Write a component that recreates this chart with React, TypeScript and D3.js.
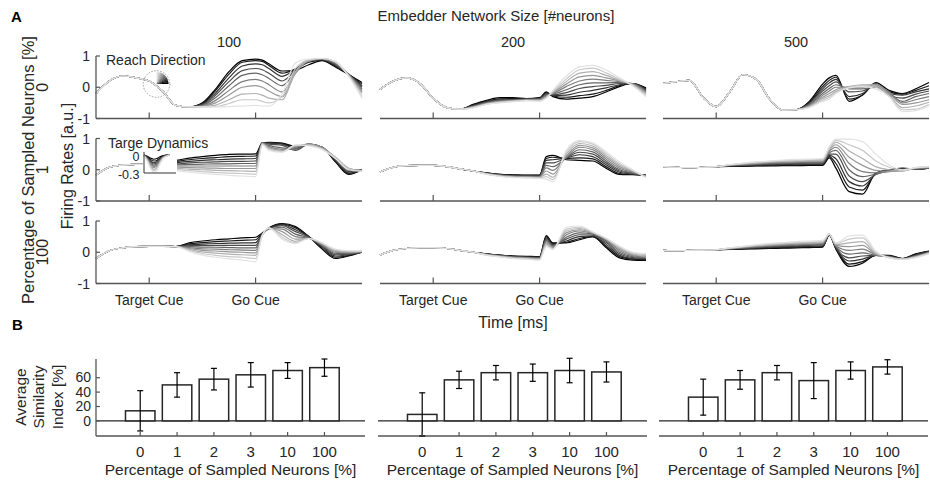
import React from 'react';
import * as d3 from 'd3';

// time grid (ms) shared by every trace in panel A
const TIMES = [0, 50, 100, 150, 200, 250, 300, 350, 400, 450, 500, 550, 600, 625, 650, 700, 750, 800, 850, 900, 950, 1000];
const TARGET_CUE = 200;
const GO_CUE = 600;
const NET_SIZES = ['100', '200', '500'];
const SAMPLED = ['0', '1', '100'];
const Y_TICKS_A = [1, 0, -1];

// 0% sampled, 100 neurons
const pre00 = [-0.2, 0.2, 0.36, 0.3, 0.2, -0.12, -0.58, -0.63];
const A00 = [
  [...pre00, -0.5, -0.05, 0.5, 0.85, 0.9, 0.87, 0.75, 0.52, 0.55, 0.72, 0.85, 0.65, 0.4, 0.15],
  [...pre00, -0.52, -0.1, 0.42, 0.8, 0.85, 0.83, 0.7, 0.45, 0.58, 0.8, 0.86, 0.68, 0.42, 0.1],
  [...pre00, -0.54, -0.18, 0.3, 0.68, 0.75, 0.72, 0.6, 0.35, 0.58, 0.85, 0.88, 0.7, 0.42, 0.05],
  [...pre00, -0.56, -0.25, 0.18, 0.53, 0.6, 0.56, 0.45, 0.2, 0.55, 0.86, 0.9, 0.72, 0.4, 0.0],
  [...pre00, -0.58, -0.33, 0.05, 0.38, 0.45, 0.4, 0.28, 0.05, 0.5, 0.86, 0.9, 0.75, 0.4, -0.05],
  [...pre00, -0.6, -0.42, -0.1, 0.18, 0.25, 0.2, 0.08, -0.15, 0.45, 0.85, 0.9, 0.78, 0.4, -0.1],
  [...pre00, -0.61, -0.5, -0.25, 0.0, 0.05, 0.0, -0.12, -0.3, 0.45, 0.85, 0.92, 0.8, 0.4, -0.15],
  [...pre00, -0.62, -0.57, -0.4, -0.22, -0.2, -0.25, -0.35, -0.4, 0.5, 0.86, 0.92, 0.82, 0.38, -0.2],
  [...pre00, -0.63, -0.62, -0.52, -0.4, -0.4, -0.45, -0.5, -0.3, 0.6, 0.88, 0.92, 0.82, 0.36, -0.3],
  [...pre00, -0.63, -0.63, -0.62, -0.6, -0.58, -0.6, -0.6, -0.2, 0.78, 0.9, 0.92, 0.82, 0.35, -0.35],
];

// 0% sampled, 200 neurons
const pre01 = [-0.07, 0.2, 0.3, 0.12, -0.35, -0.65, -0.7];
const A01 = [
  [...pre01, -0.55, -0.42, -0.33, -0.33, -0.36, -0.33, -0.15, -0.3, -0.38, -0.35, -0.3, -0.15, 0.02, 0.12, -0.02],
  [...pre01, -0.57, -0.44, -0.37, -0.36, -0.37, -0.35, -0.17, -0.28, -0.32, -0.27, -0.22, -0.1, 0.05, 0.12, -0.05],
  [...pre01, -0.58, -0.46, -0.4, -0.39, -0.38, -0.36, -0.2, -0.26, -0.25, -0.16, -0.1, -0.02, 0.08, 0.12, -0.08],
  [...pre01, -0.6, -0.48, -0.42, -0.4, -0.38, -0.37, -0.22, -0.24, -0.17, -0.04, 0.02, 0.06, 0.12, 0.12, -0.1],
  [...pre01, -0.61, -0.5, -0.43, -0.41, -0.39, -0.38, -0.25, -0.22, -0.08, 0.08, 0.14, 0.14, 0.15, 0.12, -0.12],
  [...pre01, -0.62, -0.51, -0.45, -0.42, -0.4, -0.4, -0.27, -0.2, 0.02, 0.2, 0.26, 0.22, 0.18, 0.1, -0.15],
  [...pre01, -0.63, -0.52, -0.46, -0.43, -0.41, -0.41, -0.3, -0.18, 0.1, 0.33, 0.38, 0.3, 0.2, 0.1, -0.18],
  [...pre01, -0.64, -0.53, -0.47, -0.44, -0.42, -0.42, -0.32, -0.16, 0.18, 0.45, 0.5, 0.38, 0.22, 0.08, -0.22],
  [...pre01, -0.65, -0.54, -0.48, -0.45, -0.42, -0.43, -0.34, -0.13, 0.26, 0.56, 0.61, 0.46, 0.26, 0.06, -0.26],
  [...pre01, -0.66, -0.55, -0.5, -0.46, -0.43, -0.45, -0.35, -0.1, 0.35, 0.65, 0.7, 0.55, 0.3, 0.05, -0.3],
];

// 0% sampled, 500 neurons
const pre02 = [0.12, 0.18, 0.22, -0.32, -0.62, -0.16, 0.4, 0.26, -0.37, -0.73, -0.72];
const A02 = [
  [...pre02, -0.45, 0.1, 0.3, 0.38, -0.45, -0.25, 0.15, -0.1, -0.2, -0.05, 0.15],
  [...pre02, -0.48, 0.02, 0.22, 0.32, -0.38, -0.25, 0.12, -0.15, -0.22, -0.1, 0.05],
  [...pre02, -0.5, -0.05, 0.14, 0.25, -0.3, -0.2, 0.1, -0.2, -0.25, -0.15, -0.05],
  [...pre02, -0.53, -0.12, 0.05, 0.17, -0.15, -0.12, 0.05, -0.25, -0.35, -0.22, -0.12],
  [...pre02, -0.55, -0.2, -0.04, 0.08, -0.05, -0.05, 0.0, -0.2, -0.45, -0.3, -0.2],
  [...pre02, -0.58, -0.26, -0.12, 0.0, 0.0, 0.0, 0.05, -0.15, -0.5, -0.4, -0.3],
  [...pre02, -0.6, -0.32, -0.2, -0.08, 0.02, 0.05, 0.1, -0.2, -0.55, -0.5, -0.4],
  [...pre02, -0.62, -0.37, -0.27, -0.14, 0.02, 0.08, 0.05, -0.25, -0.65, -0.6, -0.48],
  [...pre02, -0.64, -0.42, -0.33, -0.18, 0.0, 0.05, 0.0, -0.3, -0.72, -0.7, -0.55],
  [...pre02, -0.65, -0.45, -0.38, -0.2, -0.02, 0.02, -0.05, -0.3, -0.78, -0.75, -0.6],
];

// 1% sampled, 100 neurons
const pre10 = [-0.17, 0.08, 0.15, 0.17, 0.17];
const A10 = [
  [...pre10, 0.25, 0.3, 0.37, 0.42, 0.46, 0.49, 0.5, 0.51, 0.85, 0.88, 0.85, 0.75, 0.8, 0.72, 0.25, -0.15, 0.0],
  [...pre10, 0.23, 0.27, 0.32, 0.36, 0.39, 0.42, 0.43, 0.44, 0.86, 0.87, 0.84, 0.72, 0.8, 0.72, 0.27, -0.12, 0.0],
  [...pre10, 0.21, 0.23, 0.27, 0.3, 0.32, 0.34, 0.35, 0.36, 0.86, 0.85, 0.82, 0.68, 0.82, 0.72, 0.3, -0.1, 0.0],
  [...pre10, 0.19, 0.19, 0.22, 0.24, 0.25, 0.27, 0.27, 0.28, 0.86, 0.82, 0.78, 0.62, 0.82, 0.72, 0.32, -0.06, 0.0],
  [...pre10, 0.17, 0.16, 0.17, 0.18, 0.19, 0.19, 0.2, 0.2, 0.86, 0.78, 0.7, 0.66, 0.82, 0.72, 0.35, -0.02, 0.0],
  [...pre10, 0.15, 0.12, 0.12, 0.12, 0.12, 0.12, 0.12, 0.12, 0.85, 0.74, 0.65, 0.7, 0.83, 0.72, 0.38, 0.02, -0.02],
  [...pre10, 0.13, 0.09, 0.07, 0.06, 0.05, 0.04, 0.04, 0.04, 0.84, 0.7, 0.62, 0.74, 0.82, 0.7, 0.4, 0.05, -0.03],
  [...pre10, 0.11, 0.05, 0.02, 0.0, -0.02, -0.03, -0.04, -0.05, 0.83, 0.68, 0.6, 0.76, 0.8, 0.68, 0.4, 0.05, -0.04],
  [...pre10, 0.08, 0.01, -0.03, -0.06, -0.09, -0.11, -0.12, -0.14, 0.82, 0.65, 0.58, 0.78, 0.78, 0.66, 0.38, 0.03, -0.05],
  [...pre10, 0.05, -0.03, -0.08, -0.12, -0.15, -0.18, -0.2, -0.22, 0.8, 0.62, 0.56, 0.8, 0.76, 0.65, 0.36, 0.0, -0.05],
];

// 1% sampled, 200 neurons
const pre11 = [-0.07, 0.08, 0.13, 0.14, 0.14, 0.1, 0.03, -0.04];
const A11 = [
  [...pre11, -0.1, -0.15, -0.16, -0.17, -0.17, 0.42, 0.46, 0.32, 0.3, 0.28, 0.05, -0.15, -0.16, -0.17],
  [...pre11, -0.1, -0.15, -0.17, -0.18, -0.18, 0.36, 0.4, 0.36, 0.38, 0.35, 0.1, -0.12, -0.15, -0.18],
  [...pre11, -0.11, -0.16, -0.18, -0.19, -0.19, 0.3, 0.32, 0.38, 0.48, 0.42, 0.16, -0.08, -0.14, -0.18],
  [...pre11, -0.11, -0.17, -0.19, -0.2, -0.2, 0.22, 0.22, 0.38, 0.56, 0.5, 0.22, -0.04, -0.12, -0.19],
  [...pre11, -0.12, -0.17, -0.2, -0.21, -0.22, 0.14, 0.1, 0.38, 0.64, 0.57, 0.28, 0.0, -0.1, -0.2],
  [...pre11, -0.12, -0.18, -0.21, -0.22, -0.23, 0.06, -0.02, 0.4, 0.72, 0.64, 0.34, 0.05, -0.08, -0.2],
  [...pre11, -0.13, -0.19, -0.22, -0.23, -0.24, -0.04, -0.14, 0.44, 0.78, 0.7, 0.4, 0.1, -0.06, -0.21],
  [...pre11, -0.13, -0.2, -0.23, -0.24, -0.25, -0.14, -0.24, 0.5, 0.84, 0.76, 0.46, 0.15, -0.04, -0.22],
  [...pre11, -0.14, -0.2, -0.24, -0.25, -0.26, -0.22, -0.32, 0.56, 0.9, 0.82, 0.52, 0.2, -0.02, -0.24],
  [...pre11, -0.14, -0.21, -0.25, -0.26, -0.28, -0.3, -0.39, 0.62, 0.94, 0.86, 0.58, 0.25, 0.0, -0.26],
];

// 1% sampled, 500 neurons
const pre12 = [0.1, 0.08, 0.07, 0.08, 0.1];
const A12 = [
  [...pre12, 0.11, 0.11, 0.12, 0.12, 0.13, 0.13, 0.14, 0.14, 0.38, 0.05, -0.7, -0.78, -0.1, 0.0, 0.05, 0.02, 0.05],
  [...pre12, 0.12, 0.12, 0.13, 0.14, 0.15, 0.15, 0.16, 0.16, 0.42, 0.2, -0.55, -0.65, -0.12, 0.0, 0.04, 0.02, 0.05],
  [...pre12, 0.12, 0.13, 0.15, 0.16, 0.17, 0.18, 0.18, 0.19, 0.46, 0.35, -0.38, -0.52, -0.14, 0.0, 0.03, 0.02, 0.05],
  [...pre12, 0.13, 0.14, 0.16, 0.18, 0.19, 0.2, 0.21, 0.21, 0.5, 0.5, -0.2, -0.38, -0.15, -0.02, 0.02, 0.02, 0.06],
  [...pre12, 0.14, 0.15, 0.18, 0.2, 0.21, 0.22, 0.23, 0.24, 0.54, 0.62, 0.0, -0.22, -0.14, -0.04, 0.0, 0.03, 0.06],
  [...pre12, 0.14, 0.17, 0.19, 0.22, 0.23, 0.24, 0.25, 0.26, 0.58, 0.72, 0.2, -0.06, -0.1, -0.06, -0.02, 0.04, 0.07],
  [...pre12, 0.15, 0.18, 0.21, 0.24, 0.25, 0.26, 0.27, 0.28, 0.62, 0.8, 0.4, 0.14, -0.02, -0.05, -0.04, 0.05, 0.08],
  [...pre12, 0.15, 0.19, 0.22, 0.25, 0.27, 0.28, 0.29, 0.31, 0.66, 0.88, 0.6, 0.36, 0.1, 0.0, -0.05, 0.06, 0.09],
  [...pre12, 0.16, 0.2, 0.24, 0.27, 0.29, 0.3, 0.32, 0.33, 0.7, 0.94, 0.8, 0.62, 0.28, 0.08, -0.03, 0.07, 0.1],
  [...pre12, 0.16, 0.21, 0.25, 0.28, 0.31, 0.33, 0.34, 0.36, 0.74, 0.98, 0.98, 0.9, 0.5, 0.15, 0.0, 0.07, 0.1],
];

// 100% sampled, 100 neurons
const pre20 = [-0.2, 0.05, 0.14, 0.18, 0.19, 0.19, 0.18];
const A20 = [
  [...pre20, 0.3, 0.36, 0.4, 0.43, 0.46, 0.48, 0.62, 0.78, 0.92, 0.82, 0.5, 0.1, -0.2, -0.12, 0.0],
  [...pre20, 0.27, 0.31, 0.34, 0.36, 0.38, 0.4, 0.6, 0.77, 0.9, 0.78, 0.5, 0.14, -0.16, -0.1, 0.0],
  [...pre20, 0.24, 0.26, 0.28, 0.29, 0.3, 0.31, 0.58, 0.76, 0.88, 0.72, 0.5, 0.18, -0.12, -0.08, 0.0],
  [...pre20, 0.21, 0.21, 0.22, 0.22, 0.22, 0.22, 0.57, 0.76, 0.85, 0.66, 0.48, 0.2, -0.08, -0.06, 0.0],
  [...pre20, 0.18, 0.16, 0.16, 0.15, 0.14, 0.14, 0.56, 0.75, 0.8, 0.58, 0.46, 0.22, -0.04, -0.04, 0.02],
  [...pre20, 0.15, 0.11, 0.1, 0.08, 0.07, 0.06, 0.55, 0.76, 0.74, 0.5, 0.45, 0.24, 0.0, -0.02, 0.02],
  [...pre20, 0.12, 0.06, 0.04, 0.01, 0.0, -0.02, 0.55, 0.76, 0.66, 0.42, 0.44, 0.26, 0.03, 0.0, 0.03],
  [...pre20, 0.09, 0.01, -0.03, -0.06, -0.08, -0.1, 0.54, 0.77, 0.56, 0.35, 0.44, 0.28, 0.06, 0.02, 0.03],
  [...pre20, 0.06, -0.04, -0.1, -0.14, -0.16, -0.2, 0.54, 0.77, 0.48, 0.3, 0.44, 0.3, 0.08, 0.04, 0.04],
  [...pre20, 0.03, -0.09, -0.16, -0.21, -0.25, -0.3, 0.54, 0.78, 0.42, 0.28, 0.44, 0.3, 0.1, 0.05, 0.04],
];

// 100% sampled, 200 neurons
const pre21 = [-0.09, 0.06, 0.12, 0.15, 0.15, 0.12, 0.06, 0.0];
const A21 = [
  [...pre21, -0.05, -0.09, -0.12, -0.13, -0.14, 0.53, 0.3, 0.3, 0.4, 0.5, 0.15, -0.18, -0.25, -0.26],
  [...pre21, -0.05, -0.09, -0.12, -0.14, -0.15, 0.5, 0.28, 0.32, 0.44, 0.5, 0.2, -0.14, -0.22, -0.24],
  [...pre21, -0.06, -0.1, -0.13, -0.15, -0.16, 0.46, 0.25, 0.36, 0.5, 0.52, 0.26, -0.1, -0.2, -0.22],
  [...pre21, -0.06, -0.11, -0.14, -0.16, -0.17, 0.42, 0.22, 0.42, 0.56, 0.55, 0.32, -0.05, -0.17, -0.2],
  [...pre21, -0.07, -0.11, -0.15, -0.17, -0.18, 0.38, 0.2, 0.48, 0.62, 0.58, 0.36, 0.0, -0.14, -0.18],
  [...pre21, -0.07, -0.12, -0.16, -0.18, -0.2, 0.34, 0.17, 0.55, 0.68, 0.6, 0.4, 0.05, -0.11, -0.16],
  [...pre21, -0.08, -0.13, -0.17, -0.19, -0.21, 0.3, 0.15, 0.62, 0.72, 0.62, 0.42, 0.1, -0.08, -0.13],
  [...pre21, -0.08, -0.13, -0.18, -0.2, -0.22, 0.26, 0.12, 0.68, 0.76, 0.63, 0.43, 0.14, -0.05, -0.1],
  [...pre21, -0.09, -0.14, -0.19, -0.21, -0.24, 0.22, 0.1, 0.74, 0.8, 0.64, 0.44, 0.17, -0.02, -0.07],
  [...pre21, -0.09, -0.15, -0.2, -0.22, -0.25, 0.18, 0.09, 0.8, 0.84, 0.65, 0.45, 0.2, 0.0, -0.04],
];

// 100% sampled, 500 neurons
const pre22 = [0.06, 0.05, 0.06, 0.07, 0.08];
const A22 = [
  [...pre22, 0.09, 0.1, 0.11, 0.12, 0.13, 0.14, 0.15, 0.16, 0.55, 0.1, -0.45, -0.35, -0.1, -0.1, -0.2, -0.05, 0.04],
  [...pre22, 0.1, 0.11, 0.12, 0.14, 0.15, 0.16, 0.17, 0.18, 0.55, 0.12, -0.38, -0.3, -0.1, -0.11, -0.2, -0.06, 0.03],
  [...pre22, 0.1, 0.12, 0.14, 0.15, 0.17, 0.18, 0.19, 0.2, 0.56, 0.14, -0.28, -0.22, -0.1, -0.12, -0.21, -0.08, 0.02],
  [...pre22, 0.11, 0.13, 0.15, 0.17, 0.19, 0.2, 0.22, 0.23, 0.56, 0.16, -0.18, -0.12, -0.1, -0.13, -0.21, -0.1, 0.01],
  [...pre22, 0.11, 0.14, 0.17, 0.19, 0.21, 0.23, 0.24, 0.25, 0.57, 0.18, -0.06, -0.02, -0.1, -0.14, -0.22, -0.12, 0.0],
  [...pre22, 0.12, 0.15, 0.18, 0.21, 0.23, 0.25, 0.26, 0.28, 0.57, 0.2, 0.06, 0.1, -0.08, -0.15, -0.22, -0.13, -0.01],
  [...pre22, 0.12, 0.16, 0.2, 0.22, 0.25, 0.27, 0.29, 0.3, 0.58, 0.22, 0.18, 0.22, -0.06, -0.16, -0.22, -0.14, -0.02],
  [...pre22, 0.13, 0.17, 0.21, 0.24, 0.27, 0.29, 0.31, 0.33, 0.58, 0.25, 0.3, 0.34, -0.04, -0.16, -0.23, -0.15, -0.03],
  [...pre22, 0.13, 0.18, 0.22, 0.26, 0.29, 0.31, 0.33, 0.35, 0.58, 0.28, 0.42, 0.46, 0.0, -0.17, -0.23, -0.16, -0.04],
  [...pre22, 0.14, 0.19, 0.24, 0.28, 0.31, 0.34, 0.36, 0.38, 0.58, 0.3, 0.52, 0.55, 0.04, -0.18, -0.23, -0.17, -0.05],
];

const PANELS = [
  [A00, A01, A02],
  [A10, A11, A12],
  [A20, A21, A22],
];

// "Targe Dynamics" inset
const INSET_T = [0, 0.1, 0.2, 0.3, 0.4, 0.5, 0.6, 0.7, 0.8];
const INSET = [
  [0.0, -0.02, -0.05, -0.07, -0.06, -0.03, -0.01, 0.0, 0.0],
  [0.0, -0.03, -0.07, -0.1, -0.09, -0.05, -0.02, 0.0, 0.0],
  [0.0, -0.04, -0.09, -0.13, -0.11, -0.06, -0.02, -0.01, 0.0],
  [0.0, -0.05, -0.11, -0.15, -0.13, -0.07, -0.03, -0.01, 0.0],
  [-0.01, -0.05, -0.13, -0.17, -0.15, -0.08, -0.03, -0.01, 0.0],
  [-0.01, -0.06, -0.14, -0.19, -0.17, -0.09, -0.04, -0.01, 0.0],
  [-0.01, -0.07, -0.16, -0.21, -0.19, -0.11, -0.04, -0.02, 0.0],
  [-0.01, -0.08, -0.18, -0.24, -0.21, -0.12, -0.05, -0.02, 0.0],
  [-0.02, -0.09, -0.2, -0.26, -0.23, -0.13, -0.05, -0.02, 0.0],
  [-0.02, -0.1, -0.22, -0.29, -0.26, -0.15, -0.06, -0.02, 0.0],
];
const INSET_TICKS = [0, -0.3];

// panel B
const B_CATS = ['0', '1', '2', '3', '10', '100'];
const B_TICKS = [0, 20, 40, 60];
const SIM_MEAN = [
  [14, 50, 58, 64, 70, 74],
  [9, 57, 67, 67, 70, 68],
  [33, 57, 67, 56, 70, 75],
];
const SIM_ERR = [
  [28, 17, 15, 17, 11, 12],
  [30, 12, 10, 12, 17, 14],
  [25, 13, 10, 25, 12, 10],
];

const FONT = '"Liberation Sans", Arial, Helvetica, sans-serif';
const INK = '#262626';
const AXIS = '#555';

const A_COLS: [number, number][] = [[96, 362], [380, 646], [663, 929]];
const A_TOPS = [56, 138.5, 221];
const A_H = 62.5;
const B_COLS: [number, number][] = [[96, 365], [378, 647], [659, 928]];

const shade = d3.scaleLinear<string>().domain([0, 9]).range(['#000000', '#e2e2e2']);

const App: React.FC = () => {
  const els: React.ReactNode[] = [];

  // ---------- panel A ----------
  PANELS.forEach((row, r) => {
    const top = A_TOPS[r];
    const y = d3.scaleLinear().domain([-1, 1]).range([top + A_H, top]);
    row.forEach((lines, c) => {
      const [x0, x1] = A_COLS[c];
      const x = d3.scaleLinear().domain([0, 1000]).range([x0, x1]);
      const gen = d3.line<number>()
        .x((_, i) => x(TIMES[i]))
        .y((d) => y(d))
        .curve(d3.curveMonotoneX);
      lines.forEach((ln, k) => {
        els.push(
          <path key={`l${r}${c}${k}`} d={gen(ln) || ''} fill="none"
            stroke={shade(k)} strokeWidth={1.2} />
        );
      });
      // x axis
      els.push(<line key={`xa${r}${c}`} x1={x0} x2={x1} y1={y(-1)} y2={y(-1)} stroke={AXIS} strokeWidth={1.3} />);
      [TARGET_CUE, GO_CUE].forEach((t) => {
        els.push(<line key={`xt${r}${c}${t}`} x1={x(t)} x2={x(t)} y1={y(-1)} y2={y(-1) - 6} stroke={AXIS} strokeWidth={1.2} />);
      });
      if (c === 0) {
        els.push(<line key={`ya${r}`} x1={x0} x2={x0} y1={y(-1)} y2={y(1)} stroke={AXIS} strokeWidth={1.3} />);
        Y_TICKS_A.forEach((v) => {
          els.push(<line key={`yt${r}${v}`} x1={x0} x2={x0 + 4} y1={y(v)} y2={y(v)} stroke={AXIS} strokeWidth={1.2} />);
          els.push(
            <text key={`ytl${r}${v}`} x={90} y={y(v)} dy="0.36em" textAnchor="end" fontSize={14} fill={INK}>{v}</text>
          );
        });
      }
      if (r === 2) {
        els.push(<text key={`tc${c}`} x={x(TARGET_CUE)} y={305} textAnchor="middle" fontSize={14} fill={INK}>Target Cue</text>);
        els.push(<text key={`gc${c}`} x={x(GO_CUE)} y={305} textAnchor="middle" fontSize={14} fill={INK}>Go Cue</text>);
      }
    });
    // row label
    els.push(
      <text key={`rl${r}`} transform={`translate(48,${top + A_H / 2}) rotate(-90)`} textAnchor="middle" fontSize={16} fill={INK}>{SAMPLED[r]}</text>
    );
  });

  // column titles
  NET_SIZES.forEach((s, c) => {
    const [x0, x1] = A_COLS[c];
    els.push(<text key={`ct${c}`} x={(x0 + x1) / 2} y={47} textAnchor="middle" fontSize={14.5} fill={INK}>{s}</text>);
  });

  // Reach Direction legend (row 0, col 0)
  {
    const cx = 156.5, cy = 84;
    els.push(<circle key="rdc" cx={cx} cy={cy} r={13.3} fill="none" stroke="#9a9a9a" strokeWidth={1} strokeDasharray="1.5 1.5" />);
    const dirs = d3.range(10);
    const arc = d3.arc<number>()
      .innerRadius(0)
      .outerRadius(12)
      .startAngle((k) => (Math.PI / 2) * (k / 10))
      .endAngle((k) => (Math.PI / 2) * ((k + 1) / 10) + 0.01);
    dirs.forEach((k) => {
      els.push(<path key={`rd${k}`} d={arc(k) || ''} transform={`translate(${cx},${cy})`} fill={shade(9 - k)} />);
    });
    els.push(<text key="rdt" x={106} y={65} fontSize={14} fill={INK}>Reach Direction</text>);
  }

  // Targe Dynamics inset (row 1, col 0)
  {
    const ix = d3.scaleLinear().domain([0, 1]).range([144, 176]);
    const iy = d3.scaleLinear().domain([-0.3, 0.05]).range([173, 152]);
    els.push(<rect key="inbg" x={143} y={150} width={34} height={23.5} fill="#fff" />);
    const g = d3.line<number>().x((_, i) => ix(INSET_T[i])).y((d) => iy(d)).curve(d3.curveMonotoneX);
    INSET.forEach((ln, k) => {
      els.push(<path key={`in${k}`} d={g(ln) || ''} fill="none" stroke={shade(k)} strokeWidth={1.1} />);
    });
    els.push(<line key="inx" x1={144} x2={176} y1={173} y2={173} stroke={AXIS} strokeWidth={1.2} />);
    els.push(<line key="iny" x1={144} x2={144} y1={173} y2={152} stroke={AXIS} strokeWidth={1.2} />);
    INSET_TICKS.forEach((v) => {
      els.push(<text key={`int${v}`} x={139.5} y={iy(v) + 1.5} dy="0.36em" textAnchor="end" fontSize={12.5} fill={INK}>{v}</text>);
    });
    els.push(<text key="tdt" x={108} y={147.5} fontSize={14} fill={INK}>Targe Dynamics</text>);
  }

  // ---------- panel B ----------
  const yB = d3.scaleLinear().domain([-21, 86]).range([436, 359]);
  SIM_MEAN.forEach((means, c) => {
    const [x0, x1] = B_COLS[c];
    const xB = d3.scaleLinear().domain([-0.2, 7.1]).range([x0, x1]);
    const bw = xB(0.8) - xB(0);
    els.push(<line key={`bz${c}`} x1={x0} x2={x1} y1={yB(0)} y2={yB(0)} stroke={INK} strokeWidth={1.2} />);
    els.push(<line key={`bx${c}`} x1={x0} x2={x1} y1={yB(-21)} y2={yB(-21)} stroke={AXIS} strokeWidth={1.3} />);
    means.forEach((m, i) => {
      const cx = xB(i + 1);
      const e = SIM_ERR[c][i];
      els.push(<rect key={`b${c}${i}`} x={cx - bw / 2} y={yB(m)} width={bw} height={yB(0) - yB(m)} fill="#fff" stroke={INK} strokeWidth={1.5} />);
      els.push(<line key={`be${c}${i}`} x1={cx} x2={cx} y1={yB(m + e)} y2={yB(m - e)} stroke="#000" strokeWidth={1.2} />);
      els.push(<line key={`bet${c}${i}`} x1={cx - 3} x2={cx + 3} y1={yB(m + e)} y2={yB(m + e)} stroke="#000" strokeWidth={1.2} />);
      els.push(<line key={`beb${c}${i}`} x1={cx - 3} x2={cx + 3} y1={yB(m - e)} y2={yB(m - e)} stroke="#000" strokeWidth={1.2} />);
      els.push(<line key={`bt${c}${i}`} x1={cx} x2={cx} y1={yB(-21)} y2={yB(-21) - 4} stroke={AXIS} strokeWidth={1.2} />);
      els.push(<text key={`btl${c}${i}`} x={cx} y={457} textAnchor="middle" fontSize={15} fill={INK}>{B_CATS[i]}</text>);
    });
    els.push(
      <text key={`bxl${c}`} x={(x0 + x1) / 2} y={475} textAnchor="middle" fontSize={15.5} fill={INK}>Percentage of Sampled Neurons [%]</text>
    );
    if (c === 0) {
      els.push(<line key="bya" x1={x0} x2={x0} y1={yB(-21)} y2={yB(86)} stroke={AXIS} strokeWidth={1.3} />);
      B_TICKS.forEach((v) => {
        els.push(<line key={`byt${v}`} x1={x0} x2={x0 + 4} y1={yB(v)} y2={yB(v)} stroke={AXIS} strokeWidth={1.2} />);
        els.push(<text key={`bytl${v}`} x={91} y={yB(v)} dy="0.34em" textAnchor="end" fontSize={14} fill={INK}>{v}</text>);
      });
    }
  });

  return (
    <svg width={930} height={481} style={{ position: 'absolute', left: 0, top: 0, background: '#fff' }}
      fontFamily={FONT}>
      {els}
      <text x={11} y={22} fontSize={15} fontWeight="bold" fill="#000">A</text>
      <text x={12} y={330} fontSize={15} fontWeight="bold" fill="#000">B</text>
      <text x={496} y={21} textAnchor="middle" fontSize={15} fill={INK}>Embedder Network Size [#neurons]</text>
      <text transform="translate(28,170) rotate(-90)" dy="0.36em" textAnchor="middle" fontSize={16.5} fill={INK}>Percentage of Sampled Neurons [%]</text>
      <text transform="translate(67,166) rotate(-90)" dy="0.36em" textAnchor="middle" fontSize={16} fill={INK}>Firing Rates [a.u.]</text>
      <text x={513} y={328} textAnchor="middle" fontSize={16} fill={INK}>Time [ms]</text>
      <text transform="translate(20,397) rotate(-90)" dy="0.36em" textAnchor="middle" fontSize={15.5} fill={INK}>Average</text>
      <text transform="translate(38,397) rotate(-90)" dy="0.36em" textAnchor="middle" fontSize={15.5} fill={INK}>Similarity</text>
      <text transform="translate(57,397) rotate(-90)" dy="0.36em" textAnchor="middle" fontSize={15.5} fill={INK}>Index [%]</text>
    </svg>
  );
};

export default App;
